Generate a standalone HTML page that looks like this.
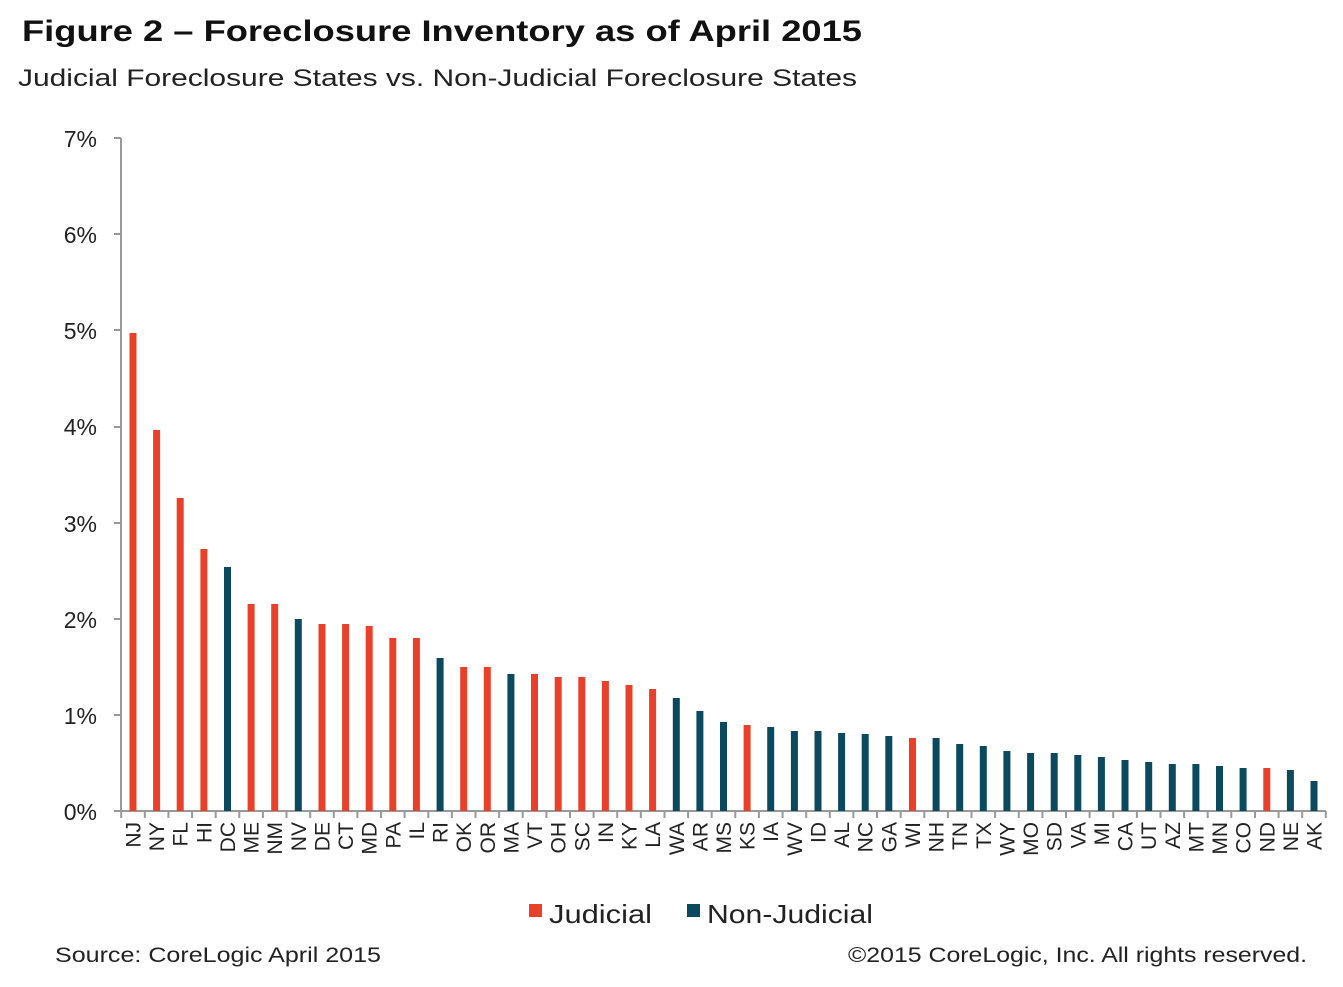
<!DOCTYPE html>
<html><head><meta charset="utf-8"><style>
html,body{margin:0;padding:0;background:#fff;}
svg{display:block;font-family:"Liberation Sans",Arial,sans-serif;}
</style></head><body>
<svg width="1343" height="987" viewBox="0 0 1343 987" xmlns="http://www.w3.org/2000/svg">
<text x="22" y="41" font-size="30" font-weight="bold" fill="#111" textLength="840" lengthAdjust="spacingAndGlyphs">Figure 2 – Foreclosure Inventory as of April 2015</text>
<text x="18" y="86" font-size="24" fill="#222" textLength="839" lengthAdjust="spacingAndGlyphs">Judicial Foreclosure States vs. Non-Judicial Foreclosure States</text>
<g font-size="23" fill="#222" text-anchor="end">
<text x="97" y="147">7%</text><text x="97" y="243">6%</text><text x="97" y="339">5%</text><text x="97" y="435">4%</text><text x="97" y="532">3%</text><text x="97" y="628">2%</text><text x="97" y="724">1%</text><text x="97" y="820">0%</text>
</g>
<g stroke="#999" stroke-width="2">
<line x1="121" y1="138" x2="121" y2="812"/>
<line x1="114" y1="138" x2="121" y2="138"/><line x1="114" y1="234" x2="121" y2="234"/><line x1="114" y1="330" x2="121" y2="330"/><line x1="114" y1="427" x2="121" y2="427"/><line x1="114" y1="523" x2="121" y2="523"/><line x1="114" y1="619" x2="121" y2="619"/><line x1="114" y1="715" x2="121" y2="715"/><line x1="114" y1="811" x2="121" y2="811"/>
<line x1="121" y1="811" x2="1326" y2="811"/>
</g>
<g fill="#e8402a">
<rect x="129.5" y="333" width="7" height="478"/>
<rect x="153.1" y="430" width="7" height="381"/>
<rect x="176.7" y="498" width="7" height="313"/>
<rect x="200.4" y="549" width="7" height="262"/>
<rect x="247.6" y="604" width="7" height="207"/>
<rect x="271.2" y="604" width="7" height="207"/>
<rect x="318.5" y="624" width="7" height="187"/>
<rect x="342.1" y="624" width="7" height="187"/>
<rect x="365.7" y="626" width="7" height="185"/>
<rect x="389.3" y="638" width="7" height="173"/>
<rect x="412.9" y="638" width="7" height="173"/>
<rect x="460.2" y="667" width="7" height="144"/>
<rect x="483.8" y="667" width="7" height="144"/>
<rect x="531.0" y="674" width="7" height="137"/>
<rect x="554.7" y="677" width="7" height="134"/>
<rect x="578.3" y="677" width="7" height="134"/>
<rect x="601.9" y="681" width="7" height="130"/>
<rect x="625.5" y="685" width="7" height="126"/>
<rect x="649.1" y="689" width="7" height="122"/>
<rect x="743.6" y="725" width="7" height="86"/>
<rect x="909.0" y="738" width="7" height="73"/>
<rect x="1263.3" y="768" width="7" height="43"/>
</g>
<g fill="#0b4a5e">
<rect x="224.0" y="567" width="7" height="244"/>
<rect x="294.8" y="619" width="7" height="192"/>
<rect x="436.6" y="658" width="7" height="153"/>
<rect x="507.4" y="674" width="7" height="137"/>
<rect x="672.8" y="698" width="7" height="113"/>
<rect x="696.4" y="711" width="7" height="100"/>
<rect x="720.0" y="722" width="7" height="89"/>
<rect x="767.2" y="727" width="7" height="84"/>
<rect x="790.9" y="731" width="7" height="80"/>
<rect x="814.5" y="731" width="7" height="80"/>
<rect x="838.1" y="733" width="7" height="78"/>
<rect x="861.7" y="734" width="7" height="77"/>
<rect x="885.3" y="736" width="7" height="75"/>
<rect x="932.6" y="738" width="7" height="73"/>
<rect x="956.2" y="744" width="7" height="67"/>
<rect x="979.8" y="746" width="7" height="65"/>
<rect x="1003.4" y="751" width="7" height="60"/>
<rect x="1027.1" y="753" width="7" height="58"/>
<rect x="1050.7" y="753" width="7" height="58"/>
<rect x="1074.3" y="755" width="7" height="56"/>
<rect x="1097.9" y="757" width="7" height="54"/>
<rect x="1121.5" y="760" width="7" height="51"/>
<rect x="1145.2" y="762" width="7" height="49"/>
<rect x="1168.8" y="764" width="7" height="47"/>
<rect x="1192.4" y="764" width="7" height="47"/>
<rect x="1216.0" y="766" width="7" height="45"/>
<rect x="1239.6" y="768" width="7" height="43"/>
<rect x="1286.9" y="770" width="7" height="41"/>
<rect x="1310.5" y="781" width="7" height="30"/>
</g>
<path stroke="#999" stroke-width="2" fill="none" d="M121.2 811v7M144.8 811v7M168.4 811v7M192.1 811v7M215.7 811v7M239.3 811v7M262.9 811v7M286.5 811v7M310.2 811v7M333.8 811v7M357.4 811v7M381.0 811v7M404.6 811v7M428.3 811v7M451.9 811v7M475.5 811v7M499.1 811v7M522.7 811v7M546.4 811v7M570.0 811v7M593.6 811v7M617.2 811v7M640.8 811v7M664.5 811v7M688.1 811v7M711.7 811v7M735.3 811v7M758.9 811v7M782.6 811v7M806.2 811v7M829.8 811v7M853.4 811v7M877.0 811v7M900.7 811v7M924.3 811v7M947.9 811v7M971.5 811v7M995.1 811v7M1018.8 811v7M1042.4 811v7M1066.0 811v7M1089.6 811v7M1113.2 811v7M1136.9 811v7M1160.5 811v7M1184.1 811v7M1207.7 811v7M1231.3 811v7M1255.0 811v7M1278.6 811v7M1302.2 811v7M1325.8 811v7"/>
<g font-size="21" fill="#222" text-anchor="end">
<text transform="translate(140.5,822) rotate(-90)">NJ</text>
<text transform="translate(164.1,822) rotate(-90)">NY</text>
<text transform="translate(187.7,822) rotate(-90)">FL</text>
<text transform="translate(211.4,822) rotate(-90)">HI</text>
<text transform="translate(235.0,822) rotate(-90)">DC</text>
<text transform="translate(258.6,822) rotate(-90)">ME</text>
<text transform="translate(282.2,822) rotate(-90)">NM</text>
<text transform="translate(305.8,822) rotate(-90)">NV</text>
<text transform="translate(329.5,822) rotate(-90)">DE</text>
<text transform="translate(353.1,822) rotate(-90)">CT</text>
<text transform="translate(376.7,822) rotate(-90)">MD</text>
<text transform="translate(400.3,822) rotate(-90)">PA</text>
<text transform="translate(423.9,822) rotate(-90)">IL</text>
<text transform="translate(447.6,822) rotate(-90)">RI</text>
<text transform="translate(471.2,822) rotate(-90)">OK</text>
<text transform="translate(494.8,822) rotate(-90)">OR</text>
<text transform="translate(518.4,822) rotate(-90)">MA</text>
<text transform="translate(542.0,822) rotate(-90)">VT</text>
<text transform="translate(565.7,822) rotate(-90)">OH</text>
<text transform="translate(589.3,822) rotate(-90)">SC</text>
<text transform="translate(612.9,822) rotate(-90)">IN</text>
<text transform="translate(636.5,822) rotate(-90)">KY</text>
<text transform="translate(660.1,822) rotate(-90)">LA</text>
<text transform="translate(683.8,822) rotate(-90)">WA</text>
<text transform="translate(707.4,822) rotate(-90)">AR</text>
<text transform="translate(731.0,822) rotate(-90)">MS</text>
<text transform="translate(754.6,822) rotate(-90)">KS</text>
<text transform="translate(778.2,822) rotate(-90)">IA</text>
<text transform="translate(801.9,822) rotate(-90)">WV</text>
<text transform="translate(825.5,822) rotate(-90)">ID</text>
<text transform="translate(849.1,822) rotate(-90)">AL</text>
<text transform="translate(872.7,822) rotate(-90)">NC</text>
<text transform="translate(896.3,822) rotate(-90)">GA</text>
<text transform="translate(920.0,822) rotate(-90)">WI</text>
<text transform="translate(943.6,822) rotate(-90)">NH</text>
<text transform="translate(967.2,822) rotate(-90)">TN</text>
<text transform="translate(990.8,822) rotate(-90)">TX</text>
<text transform="translate(1014.4,822) rotate(-90)">WY</text>
<text transform="translate(1038.1,822) rotate(-90)">MO</text>
<text transform="translate(1061.7,822) rotate(-90)">SD</text>
<text transform="translate(1085.3,822) rotate(-90)">VA</text>
<text transform="translate(1108.9,822) rotate(-90)">MI</text>
<text transform="translate(1132.5,822) rotate(-90)">CA</text>
<text transform="translate(1156.2,822) rotate(-90)">UT</text>
<text transform="translate(1179.8,822) rotate(-90)">AZ</text>
<text transform="translate(1203.4,822) rotate(-90)">MT</text>
<text transform="translate(1227.0,822) rotate(-90)">MN</text>
<text transform="translate(1250.6,822) rotate(-90)">CO</text>
<text transform="translate(1274.3,822) rotate(-90)">ND</text>
<text transform="translate(1297.9,822) rotate(-90)">NE</text>
<text transform="translate(1321.5,822) rotate(-90)">AK</text>
</g>
<rect x="529" y="904" width="13" height="13" fill="#e8402a"/>
<text x="549" y="923" font-size="26" fill="#222" textLength="103" lengthAdjust="spacingAndGlyphs">Judicial</text>
<rect x="687" y="904" width="13" height="13" fill="#0b4a5e"/>
<text x="707" y="923" font-size="26" fill="#222" textLength="166" lengthAdjust="spacingAndGlyphs">Non-Judicial</text>
<text x="55" y="962" font-size="21" fill="#222" textLength="326" lengthAdjust="spacingAndGlyphs">Source: CoreLogic April 2015</text>
<text x="848" y="962" font-size="21" fill="#222" textLength="459" lengthAdjust="spacingAndGlyphs">©2015 CoreLogic, Inc. All rights reserved.</text>
</svg>
</body></html>
